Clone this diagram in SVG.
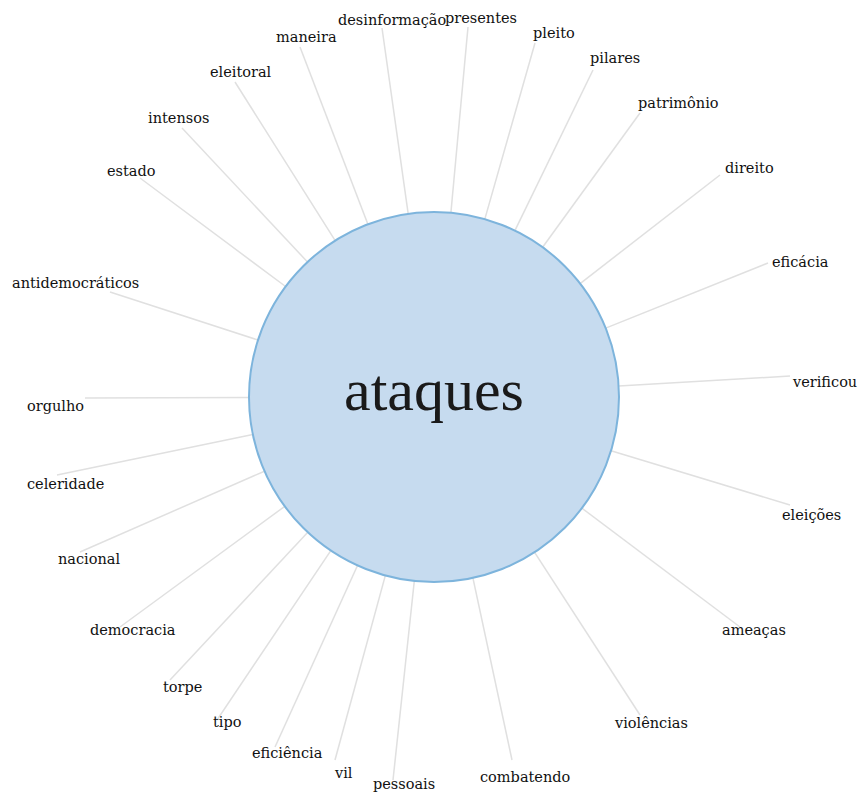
<svg xmlns="http://www.w3.org/2000/svg" width="862" height="793" viewBox="0 0 862 793">
<style>
.bg{fill:#ffffff}
.link{stroke:#e0e0e0;stroke-width:1.5;fill:none}
.hub{fill:#c6dbef;stroke:#7db4dc;stroke-width:2}
.lbl{font-family:"DejaVu Serif","Liberation Serif",serif;font-size:14.5px;fill:#111111}
.hubtxt{font-family:"Liberation Serif","DejaVu Serif",serif;font-size:60px;fill:#1a1a1a;text-anchor:middle}
</style>
<rect class="bg" x="0" y="0" width="862" height="793"/>
<g id="connectors">
<line class="link" x1="408.2" y1="213.8" x2="382" y2="28"/>
<line class="link" x1="450.9" y1="212.8" x2="468" y2="27"/>
<line class="link" x1="484.8" y1="219.1" x2="535" y2="43"/>
<line class="link" x1="514.9" y1="230.6" x2="593" y2="70"/>
<line class="link" x1="542.6" y1="247.2" x2="640" y2="113"/>
<line class="link" x1="580.1" y1="283.6" x2="720" y2="175"/>
<line class="link" x1="605.7" y1="328.1" x2="768" y2="263"/>
<line class="link" x1="618.7" y1="386.1" x2="790" y2="376"/>
<line class="link" x1="611" y1="450.7" x2="790" y2="505"/>
<line class="link" x1="581.9" y1="508.2" x2="740" y2="627"/>
<line class="link" x1="534.6" y1="552.3" x2="640" y2="715"/>
<line class="link" x1="472.9" y1="577.9" x2="512" y2="760"/>
<line class="link" x1="414.3" y1="581" x2="393" y2="780"/>
<line class="link" x1="385.3" y1="575.6" x2="335" y2="760"/>
<line class="link" x1="357.5" y1="565.5" x2="275" y2="747"/>
<line class="link" x1="330.8" y1="550.6" x2="217" y2="720"/>
<line class="link" x1="307.8" y1="532.3" x2="170" y2="680"/>
<line class="link" x1="284.8" y1="506.3" x2="120" y2="627"/>
<line class="link" x1="264.5" y1="471.2" x2="80" y2="552"/>
<line class="link" x1="252.8" y1="434.5" x2="57" y2="475"/>
<line class="link" x1="249" y1="397.5" x2="85" y2="398"/>
<line class="link" x1="258" y1="340" x2="110" y2="292"/>
<line class="link" x1="285.6" y1="286.5" x2="140" y2="178"/>
<line class="link" x1="307.5" y1="262" x2="182" y2="128"/>
<line class="link" x1="335.2" y1="240.6" x2="235" y2="82"/>
<line class="link" x1="367.9" y1="224.2" x2="300" y2="47"/>
</g>
<g id="node-ataques">
<circle class="hub" cx="434" cy="397" r="185"/>
<text class="hubtxt" x="434" y="410">ataques</text>
</g>
<g id="node-desinformacao"><text class="lbl" x="338" y="25">desinformação</text></g>
<g id="node-presentes"><text class="lbl" x="445" y="23">presentes</text></g>
<g id="node-pleito"><text class="lbl" x="533" y="38">pleito</text></g>
<g id="node-pilares"><text class="lbl" x="590" y="63">pilares</text></g>
<g id="node-patrimonio"><text class="lbl" x="638" y="108">patrimônio</text></g>
<g id="node-direito"><text class="lbl" x="725" y="173">direito</text></g>
<g id="node-eficacia"><text class="lbl" x="772" y="267">eficácia</text></g>
<g id="node-verificou"><text class="lbl" x="793" y="387">verificou</text></g>
<g id="node-eleicoes"><text class="lbl" x="782" y="520">eleições</text></g>
<g id="node-ameacas"><text class="lbl" x="722" y="635">ameaças</text></g>
<g id="node-violencias"><text class="lbl" x="615" y="728">violências</text></g>
<g id="node-combatendo"><text class="lbl" x="480" y="782">combatendo</text></g>
<g id="node-pessoais"><text class="lbl" x="373" y="789">pessoais</text></g>
<g id="node-vil"><text class="lbl" x="335" y="778">vil</text></g>
<g id="node-eficiencia"><text class="lbl" x="252" y="758">eficiência</text></g>
<g id="node-tipo"><text class="lbl" x="213" y="727">tipo</text></g>
<g id="node-torpe"><text class="lbl" x="163" y="692">torpe</text></g>
<g id="node-democracia"><text class="lbl" x="90" y="635">democracia</text></g>
<g id="node-nacional"><text class="lbl" x="58" y="564">nacional</text></g>
<g id="node-celeridade"><text class="lbl" x="27" y="489">celeridade</text></g>
<g id="node-orgulho"><text class="lbl" x="27" y="411">orgulho</text></g>
<g id="node-antidemocraticos"><text class="lbl" x="12" y="288">antidemocráticos</text></g>
<g id="node-estado"><text class="lbl" x="107" y="176">estado</text></g>
<g id="node-intensos"><text class="lbl" x="148" y="123">intensos</text></g>
<g id="node-eleitoral"><text class="lbl" x="210" y="77">eleitoral</text></g>
<g id="node-maneira"><text class="lbl" x="276" y="42">maneira</text></g>
</svg>
